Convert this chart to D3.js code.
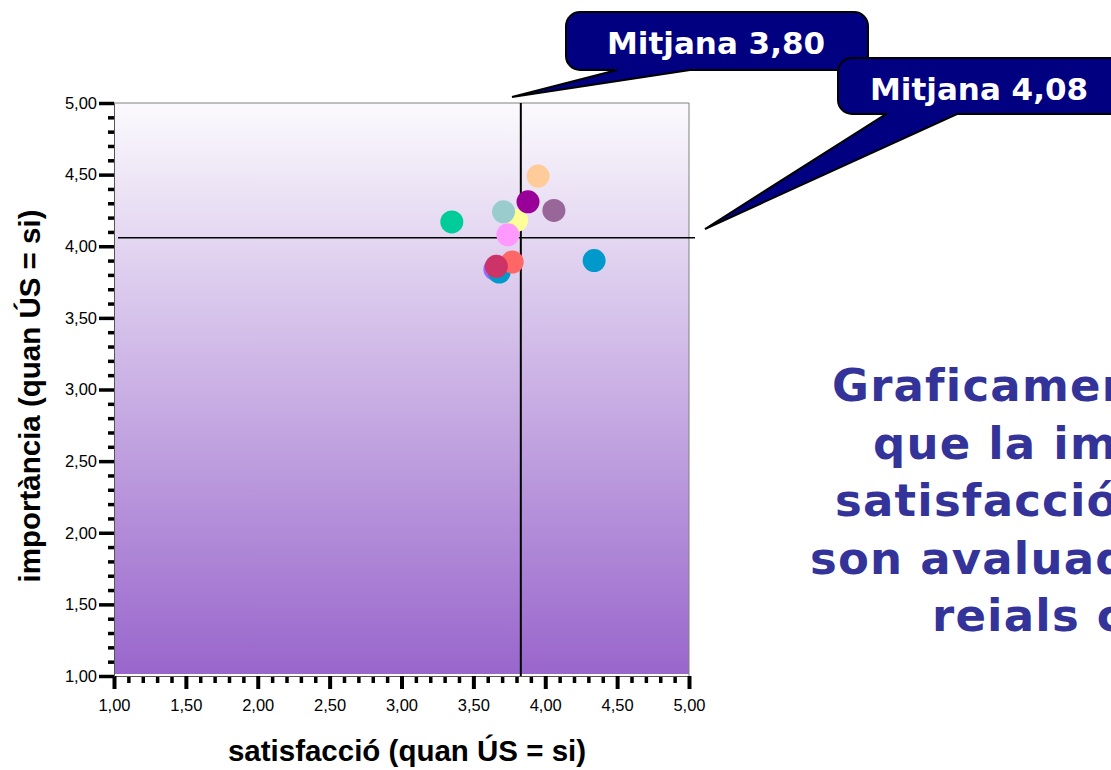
<!DOCTYPE html>
<html>
<head>
<meta charset="utf-8">
<script src="https://cdn.jsdelivr.net/npm/d3@7"></script>
<style>
  body { margin: 0; background: #fff; }
  svg { display: block; }
</style>
</head>
<body>
<div id="chart"></div>
<script>
// data
const satisfaccio = [3.35, 3.95, 3.80, 3.71, 3.88, 4.06, 3.74, 3.65, 3.68, 3.77, 3.66, 4.34];
const importancia = [4.17, 4.49, 4.18, 4.24, 4.31, 4.25, 4.08, 3.84, 3.82, 3.89, 3.86, 3.90];
const pointColors = ['#00cc99', '#ffcc99', '#ffff99', '#99cccc', '#990099', '#996699',
  '#ff99ff', '#9966ff', '#0099cc', '#ff6666', '#cc3366', '#0099cc'];

const majorTicks = [1, 1.5, 2, 2.5, 3, 3.5, 4, 4.5, 5];
const minorTicks = d3.range(11, 50).map((d) => d / 10).filter((d) => !majorTicks.includes(d));

const meanSatisfaccio = 3.83;
const meanImportancia = 4.06;
const calloutLabels = ['Mitjana 3,80', 'Mitjana 4,08'];

const xTitle = 'satisfacció (quan ÚS = si)';
const yTitle = 'importància (quan ÚS = si)';
const sideLines = ['Graficament', 'que la importància', 'satisfacció', 'son avaluades', 'reials c'];

const width = 1111;
const height = 770;

const svg = d3.select('#chart')
  .append('svg')
  .attr('width', width)
  .attr('height', height);

const x = d3.scaleLinear().domain([1, 5]).range([114, 689]);
const y = d3.scaleLinear().domain([1, 5]).range([676, 103]);

const locale = d3.formatLocale({
  decimal: ',', thousands: '.', grouping: [3], currency: ['', '€'],
});
const fmt = locale.format('.2f');

// plot background
const grad = svg.append('defs')
  .append('linearGradient')
  .attr('id', 'bg')
  .attr('x1', 0).attr('y1', 0)
  .attr('x2', 0).attr('y2', 1);
grad.append('stop').attr('offset', '0%').attr('stop-color', '#fbfafd');
grad.append('stop').attr('offset', '100%').attr('stop-color', '#9966cc');

svg.append('rect')
  .attr('x', x(1))
  .attr('y', y(5))
  .attr('width', x(5) - x(1))
  .attr('height', y(1) - y(5) - 2)
  .attr('fill', 'url(#bg)');

svg.append('path')
  .attr('d', `M${x(1)},${y(5)}H${x(5)}V${y(1)}`)
  .attr('fill', 'none')
  .attr('stroke', '#808080')
  .attr('stroke-width', 1);

// axes
const styleAxis = (g, w) => {
  g.select('.domain').attr('stroke', '#555').attr('stroke-width', 1);
  g.selectAll('.tick line').attr('stroke', '#000').attr('stroke-width', w);
  g.selectAll('.tick text')
    .style('font-family', 'Liberation Sans, Arial, sans-serif')
    .style('font-size', '16.5px')
    .attr('fill', '#000');
};

svg.append('g')
  .attr('transform', `translate(0,${y(1)})`)
  .call(d3.axisBottom(x).tickValues(minorTicks).tickSize(7).tickFormat('').tickSizeOuter(0))
  .call((g) => styleAxis(g, 3.5));
svg.append('g')
  .attr('transform', `translate(0,${y(1)})`)
  .call(d3.axisBottom(x).tickValues(majorTicks).tickSize(13).tickPadding(10).tickFormat(fmt).tickSizeOuter(0))
  .call((g) => styleAxis(g, 4));

svg.append('g')
  .attr('transform', `translate(${x(1)},0)`)
  .call(d3.axisLeft(y).tickValues(minorTicks).tickSize(6).tickFormat('').tickSizeOuter(0))
  .call((g) => styleAxis(g, 3.5));
svg.append('g')
  .attr('transform', `translate(${x(1)},0)`)
  .call(d3.axisLeft(y).tickValues(majorTicks).tickSize(15).tickPadding(2).tickFormat(fmt).tickSizeOuter(0))
  .call((g) => styleAxis(g, 3.5));

// mean lines
svg.append('line')
  .attr('x1', x(meanSatisfaccio)).attr('x2', x(meanSatisfaccio))
  .attr('y1', y(5)).attr('y2', y(1))
  .attr('stroke', '#000')
  .attr('stroke-width', 2);
svg.append('line')
  .attr('x1', x(1) + 4).attr('x2', x(5) + 6)
  .attr('y1', y(meanImportancia)).attr('y2', y(meanImportancia))
  .attr('stroke', '#000')
  .attr('stroke-width', 1.5);

// points
svg.append('g')
  .selectAll('circle')
  .data(satisfaccio)
  .enter()
  .append('circle')
  .attr('cx', (d) => x(d))
  .attr('cy', (d, i) => y(importancia[i]))
  .attr('r', 11.5)
  .attr('fill', (d, i) => pointColors[i]);

// axis titles
svg.append('text')
  .attr('x', 407)
  .attr('y', 761)
  .attr('text-anchor', 'middle')
  .style('font-family', 'Liberation Sans, Arial, sans-serif')
  .style('font-weight', 'bold')
  .style('font-size', '29.5px')
  .text(xTitle);

svg.append('text')
  .attr('transform', 'translate(40,396) rotate(-90)')
  .attr('text-anchor', 'middle')
  .style('font-family', 'Liberation Sans, Arial, sans-serif')
  .style('font-weight', 'bold')
  .style('font-size', '29.5px')
  .text(yTitle);

// callouts
const callout = (box, tailA, tailB, tip, label, tx, ty) => {
  const [x0, y0, x1, y1] = box;
  const r = 14;
  const p = d3.path();
  p.moveTo(x0 + r, y0);
  p.lineTo(x1 - r, y0);
  p.arcTo(x1, y0, x1, y0 + r, r);
  p.lineTo(x1, y1 - r);
  p.arcTo(x1, y1, x1 - r, y1, r);
  p.lineTo(tailB, y1);
  p.lineTo(tip[0], tip[1]);
  p.lineTo(tailA, y1);
  p.lineTo(x0 + r, y1);
  p.arcTo(x0, y1, x0, y1 - r, r);
  p.lineTo(x0, y0 + r);
  p.arcTo(x0, y0, x0 + r, y0, r);
  p.closePath();

  const g = svg.append('g');
  g.append('path')
    .attr('d', p.toString())
    .attr('fill', '#000080')
    .attr('stroke', '#000')
    .attr('stroke-width', 2);
  g.append('text')
    .attr('x', tx)
    .attr('y', ty)
    .attr('fill', '#fff')
    .style('font-family', 'DejaVu Sans, Verdana, sans-serif')
    .style('font-weight', 'bold')
    .style('font-size', '31px')
    .text(label);
};

callout([566, 12, 868, 70], 617, 690, [512, 97], calloutLabels[0], 607, 54);
callout([838, 58, 1140, 114], 886, 957, [705, 229], calloutLabels[1], 870, 100);

// side text
svg.append('g')
  .selectAll('text')
  .data(sideLines)
  .enter()
  .append('text')
  .attr('x', (d, i) => [832, 873, 835, 810, 932][i])
  .attr('y', (d, i) => 401 + i * 57.5)
  .attr('fill', '#333399')
  .style('font-family', 'DejaVu Sans, Verdana, sans-serif')
  .style('font-weight', 'bold')
  .style('font-size', '45px')
  .style('letter-spacing', '1.2px')
  .text((d) => d);
</script>
</body>
</html>
